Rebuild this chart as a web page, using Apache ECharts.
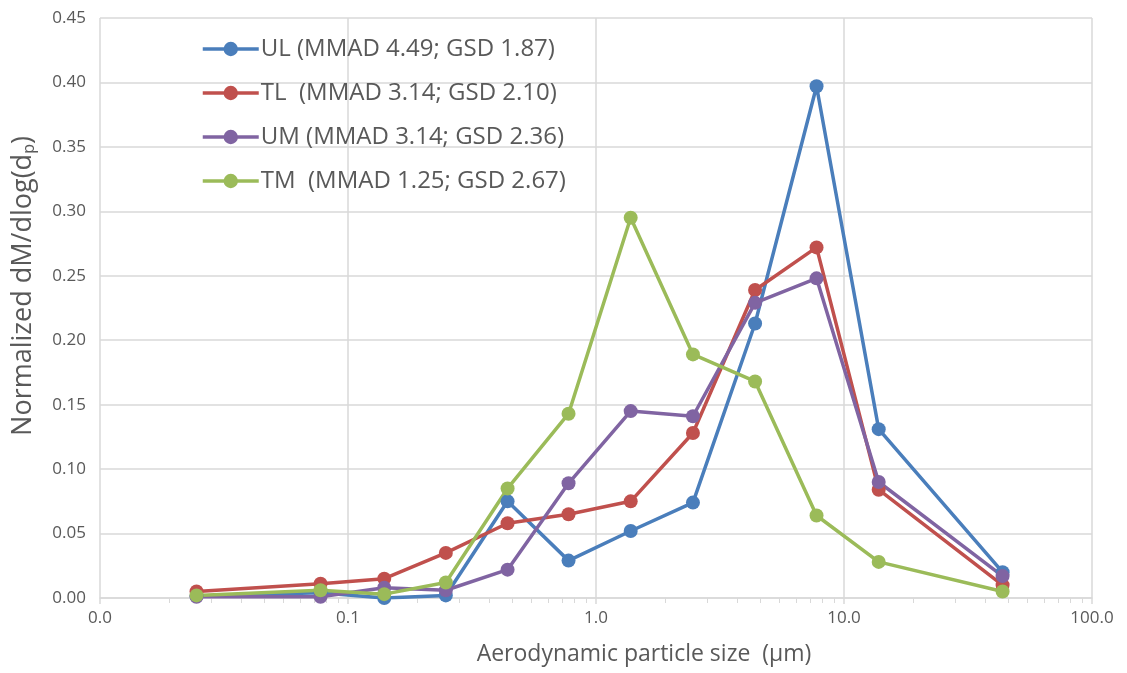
<!DOCTYPE html>
<html><head><meta charset="utf-8">
<script src="https://cdn.jsdelivr.net/npm/echarts@6/dist/echarts.min.js"></script>
<style>html,body{margin:0;padding:0;background:#fff}#c{width:1127px;height:673px}</style>
</head><body><div id="c"></div>
<script>
const sizes = [0.0245, 0.0775, 0.14, 0.248, 0.44, 0.775, 1.38, 2.46, 4.38, 7.75, 13.8, 43.6];
const seriesNames = ['UL (MMAD 4.49; GSD 1.87)', 'TL  (MMAD 3.14; GSD 2.10)', 'UM (MMAD 3.14; GSD 2.36)', 'TM  (MMAD 1.25; GSD 2.67)'];
const UL = [0.0015, 0.004, 0.000, 0.002, 0.075, 0.029, 0.052, 0.074, 0.213, 0.397, 0.131, 0.020];
const TL = [0.005, 0.011, 0.015, 0.035, 0.058, 0.065, 0.075, 0.128, 0.239, 0.272, 0.084, 0.010];
const UM = [0.001, 0.001, 0.008, 0.006, 0.022, 0.089, 0.145, 0.141, 0.229, 0.248, 0.090, 0.017];
const TM = [0.002, 0.006, 0.003, 0.012, 0.085, 0.143, 0.295, 0.189, 0.168, 0.064, 0.028, 0.005];
const colors = ['#4A7EBB', '#C0504D', '#8064A2', '#9BBB59'];
const values = [UL, TL, UM, TM];

const chart = echarts.init(document.getElementById('c'));
const textColor = '#595959';
const font = 'Open Sans';
chart.setOption({
  animation: false,
  color: colors,
  grid: {left: 100, right: 35, top: 18, bottom: 75},
  legend: {
    orient: 'vertical', left: 196, top: 32, itemGap: 20, itemWidth: 56, itemHeight: 18,
    textStyle: {color: textColor, fontSize: 24, fontFamily: font, padding: [0, 0, 0, -3]},
    lineStyle: {width: 3.5},
    data: seriesNames
  },
  xAxis: {
    type: 'log', logBase: 10, min: 0.01, max: 100,
    name: 'Aerodynamic particle size  (μm)', nameLocation: 'middle', nameGap: 45,
    nameTextStyle: {color: textColor, fontSize: 23, fontFamily: font, padding: [0, 0, 0, 96]},
    axisLine: {show: true, lineStyle: {color: '#d9d9d9', width: 1.5}},
    axisTick: {show: true, length: 6, lineStyle: {color: '#d9d9d9', width: 1.5}},
    minorTick: {show: true, splitNumber: 10, length: 5, lineStyle: {color: '#d9d9d9'}},
    axisLabel: {color: textColor, fontSize: 17, fontFamily: font, margin: 12, formatter: v => Number(v).toFixed(1)},
    splitLine: {show: true, lineStyle: {color: '#d9d9d9', width: 1.5}}
  },
  yAxis: {
    type: 'value', min: 0, max: 0.45, interval: 0.05,
    name: 'Normalized dM/dlog(d{s|p})', nameLocation: 'middle', nameGap: 63,
    nameTextStyle: {color: textColor, fontSize: 27, fontFamily: font, padding: [0, 0, 0, 44],
      rich: {s: {fontSize: 16, color: textColor, fontFamily: font, padding: [12, 0, 0, 0]}}},
    axisLine: {show: false}, axisTick: {show: false},
    axisLabel: {color: textColor, fontSize: 17, fontFamily: font, margin: 14, formatter: v => v.toFixed(2)},
    splitLine: {show: true, lineStyle: {color: '#d9d9d9', width: 1.5}}
  },
  series: seriesNames.map((n, i) => ({
    name: n, type: 'line',
    data: sizes.map((s, j) => [s, values[i][j]]),
    symbol: 'circle', symbolSize: 14,
    lineStyle: {width: 3.5, color: colors[i]},
    itemStyle: {color: colors[i]}
  }))
});
</script></body></html>
